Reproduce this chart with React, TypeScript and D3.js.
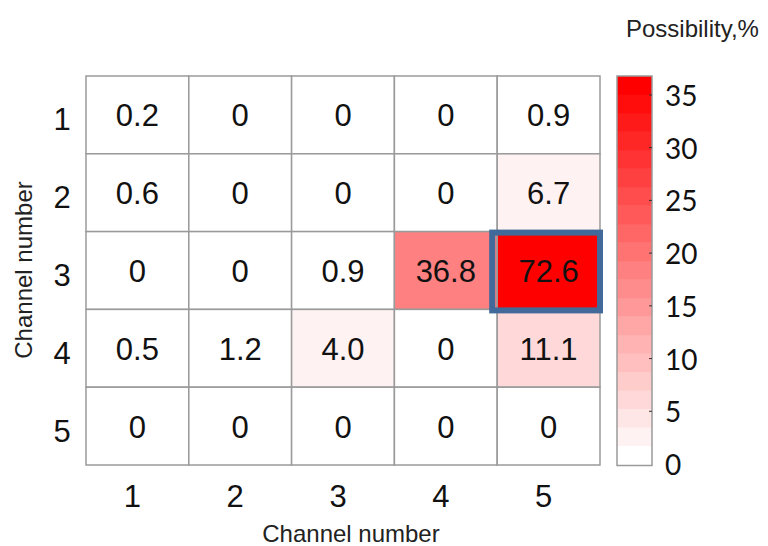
import React from "react";
import * as d3 from "d3";

// Channel indices along both axes
const channels = [1, 2, 3, 4, 5];

// Possibility (%) per row channel (outer) and column channel (inner)
const row1 = [0.2, 0, 0, 0, 0.9];
const row2 = [0.6, 0, 0, 0, 6.7];
const row3 = [0, 0, 0.9, 36.8, 72.6];
const row4 = [0.5, 1.2, 4.0, 0, 11.1];
const row5 = [0, 0, 0, 0, 0];
const rows = [row1, row2, row3, row4, row5];

// Highlighted cell (row channel, column channel)
const highlight = { row: 3, col: 5 };

// Colour bar
const barTicks = [0, 5, 10, 15, 20, 25, 30, 35];
const barMax = 36.8;
const barSteps = 21;

const W = 768;
const H = 546;
const grid = { left: 86, right: 600, top: 76, bottom: 465 };
const bar = { left: 617, right: 652, top: 76, bottom: 464 };

const sans = "'Liberation Sans', Arial, sans-serif";
const barFont = "Lato, 'Open Sans', sans-serif";

export default function App() {
  const x = d3.scaleBand<number>().domain(channels).range([grid.left, grid.right]);
  const y = d3.scaleBand<number>().domain(channels).range([grid.top, grid.bottom]);

  // stepped white-to-red palette shared by cells and colour bar
  const stepColor = d3
    .scaleLinear<string>()
    .domain([0, barSteps - 1])
    .range(["#ffffff", "#ff0000"]);
  const palette = d3.range(barSteps).map((i) => stepColor(i));

  const maxVal = d3.max(rows.flat()) ?? 1;
  const cellColor = d3.scaleQuantize<string>().domain([0, maxVal]).range(palette);

  const barY = d3.scaleLinear().domain([0, barMax]).range([bar.bottom, bar.top]);
  const steps = d3.range(barSteps).map((i) => ({
    i,
    v0: (barMax * i) / barSteps,
    v1: (barMax * (i + 1)) / barSteps,
  }));

  const fmt = (v: number) => (v === 0 ? "0" : v.toFixed(1));

  const cells = rows.flatMap((r, ri) =>
    r.map((v, ci) => ({ row: channels[ri], col: channels[ci], v }))
  );

  const hx = x(highlight.col)!;
  const hy = y(highlight.row)!;

  return (
    <svg
      width={W}
      height={H}
      style={{ position: "absolute", left: 0, top: 0, background: "#fff" }}
    >
      {/* heatmap cells */}
      {cells.map((c) => (
        <rect
          key={`c-${c.row}-${c.col}`}
          x={x(c.col)}
          y={y(c.row)}
          width={x.bandwidth()}
          height={y.bandwidth()}
          fill={cellColor(c.v)}
          stroke="#9a9a9a"
          strokeWidth={1.5}
        />
      ))}
      {/* highlight frame */}
      <rect
        x={hx - 5}
        y={hy + 1}
        width={x.bandwidth() + 5}
        height={y.bandwidth()}
        fill="none"
        stroke="#41699a"
        strokeWidth={6}
      />
      {/* cell values */}
      {cells.map((c) => (
        <text
          key={`t-${c.row}-${c.col}`}
          x={x(c.col)! + x.bandwidth() / 2}
          y={y(c.row)! + y.bandwidth() / 2 + 1}
          textAnchor="middle"
          dominantBaseline="central"
          fontFamily={sans}
          fontSize={31}
          fill="#111"
        >
          {fmt(c.v)}
        </text>
      ))}
      {/* y tick labels */}
      {channels.map((ch) => (
        <text
          key={`yl-${ch}`}
          x={62}
          y={y(ch)! + y.bandwidth() / 2 + 5}
          textAnchor="middle"
          dominantBaseline="central"
          fontFamily={sans}
          fontSize={31}
          fill="#111"
        >
          {ch}
        </text>
      ))}
      {/* x tick labels */}
      {channels.map((ch) => (
        <text
          key={`xl-${ch}`}
          x={x(ch)! + x.bandwidth() / 2 - 5}
          y={496}
          textAnchor="middle"
          dominantBaseline="central"
          fontFamily={sans}
          fontSize={31}
          fill="#111"
        >
          {ch}
        </text>
      ))}
      {/* axis titles */}
      <text
        x={351}
        y={533}
        textAnchor="middle"
        dominantBaseline="central"
        fontFamily={sans}
        fontSize={24}
        fill="#222"
      >
        Channel number
      </text>
      <text
        transform={`translate(23, 270) rotate(-90)`}
        textAnchor="middle"
        dominantBaseline="central"
        fontFamily={sans}
        fontSize={24}
        fill="#222"
      >
        Channel number
      </text>

      {/* colour bar */}
      {steps.map((s) => (
        <rect
          key={`s-${s.i}`}
          x={bar.left}
          y={barY(s.v1)}
          width={bar.right - bar.left}
          height={barY(s.v0) - barY(s.v1) + 0.5}
          fill={palette[s.i]}
        />
      ))}
      <rect
        x={bar.left}
        y={bar.top}
        width={bar.right - bar.left}
        height={bar.bottom - bar.top + 1.5}
        fill="none"
        stroke="#9a9a9a"
        strokeWidth={1.5}
      />
      {barTicks.map((t) => (
        <g key={`bt-${t}`}>
          {t > 0 && (
            <line
              x1={bar.right - 3}
              x2={bar.right}
              y1={barY(t)}
              y2={barY(t)}
              stroke="#333"
              strokeWidth={1}
            />
          )}
          <text
            x={665}
            y={barY(t)}
            dominantBaseline="central"
            fontFamily={barFont}
            fontSize={28}
            fill="#111"
          >
            {t}
          </text>
        </g>
      ))}
      <text
        x={626}
        y={28}
        dominantBaseline="central"
        fontFamily={sans}
        fontSize={24}
        fill="#222"
      >
        Possibility,%
      </text>
    </svg>
  );
}
